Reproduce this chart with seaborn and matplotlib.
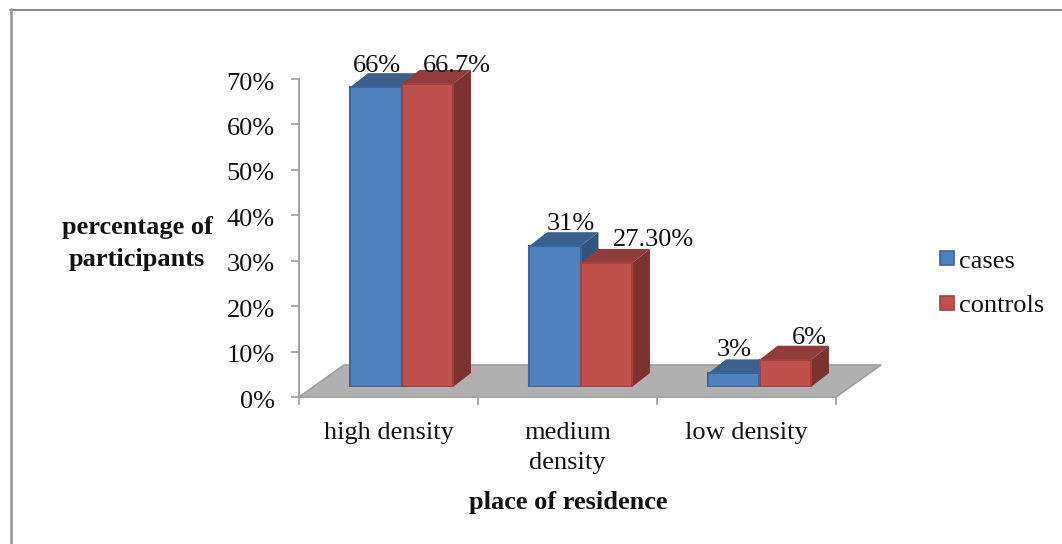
import matplotlib
matplotlib.use("Agg")
import matplotlib.pyplot as plt
from matplotlib.lines import Line2D
from matplotlib.patches import Polygon, Rectangle
from matplotlib.transforms import Affine2D
import pandas as pd
import seaborn as sns

lugares = ["high density", "medium\ndensity", "low density"]
cases = [66, 31, 3]
controls = [66.7, 27.3, 6]
rotulos_cases = ["66%", "31%", "3%"]
rotulos_controls = ["66.7%", "27.30%", "6%"]
ticks_y = [0, 10, 20, 30, 40, 50, 60, 70]

W, H = 1062, 544
AZUL, AZUL_TOPO, AZUL_LADO = "#4f81bd", "#3b618e", "#31537c"
VERM, VERM_TOPO, VERM_LADO = "#c0504d", "#8f3c3a", "#7b3230"
CINZA = "#a6a6a6"
FONTE = 19


def caixa(x0, y_topo, x1, y_base):
    # retangulo em pixels da imagem -> fracao da figura
    return [x0 / W, 1 - y_base / H, (x1 - x0) / W, (y_base - y_topo) / H]


sns.set_theme(style="white")
plt.rcParams["font.family"] = ["Liberation Serif", "DejaVu Serif"]

fig = plt.figure(figsize=(W / 100, H / 100), dpi=100, facecolor="white")
# moldura: so topo e esquerda aparecem no recorte
fig.add_artist(Line2D([10 / W, 1], [1 - 9.5 / H, 1 - 9.5 / H], color="#8c8c8c", linewidth=1.5,
                      transform=fig.transFigure))
fig.add_artist(Line2D([10.5 / W, 10.5 / W], [0, 1 - 9 / H], color="#9a9a9a", linewidth=1.9,
                      transform=fig.transFigure))

# eixos de verdade (escala 0-70 e categorias)
ax = fig.add_axes(caixa(299, 79, 836, 397))
ax.set_facecolor("none")
ax.set_xlim(-0.5, 2.5)
ax.set_ylim(0, 70)
ax.set_yticks(ticks_y)
ax.set_yticklabels([f"{t}%" for t in ticks_y], fontsize=FONTE, color="#111111")
ax.set_xticks([-0.5, 0.5, 1.5, 2.5])
ax.set_xticklabels([])
for pos, nome in enumerate(lugares):
    ax.text(pos, -5.6, nome, ha="center", va="top", fontsize=FONTE, color="#111111", linespacing=1.44)
ax.tick_params(axis="both", length=6, width=1.3, color=CINZA, bottom=True, left=True)
ax.tick_params(axis="y", pad=11.5)
for rotulo in ax.get_yticklabels():
    rotulo.set_transform(rotulo.get_transform() + Affine2D().translate(0, -2))
for lado in ["top", "right"]:
    ax.spines[lado].set_visible(False)
for lado in ["left", "bottom"]:
    ax.spines[lado].set_color(CINZA)
    ax.spines[lado].set_linewidth(1.5)

# chao do grafico 3d
chao = Polygon([(299, H - 397), (344, H - 365), (881, H - 365), (836, H - 397)], closed=True,
               facecolor="#b0b0b0", edgecolor="#a0a0a0", linewidth=1.2, transform=None, zorder=-1)
fig.add_artist(chao)

# barras: mesma escala, base deslocada para cima do chao
ax2 = fig.add_axes(caixa(312, 69, 849, 387))
ax2.set_facecolor("none")
tabela = pd.DataFrame({
    "lugar": lugares * 2,
    "valor": cases + controls,
    "grupo": ["cases"] * 3 + ["controls"] * 3,
})
sns.barplot(data=tabela, x="lugar", y="valor", hue="grupo", palette=[AZUL, VERM], width=0.575, gap=0,
            saturation=1, ax=ax2, zorder=5, linewidth=1.5, edgecolor="none")
ax2.set_xlim(-0.5, 2.5)
ax2.set_ylim(0, 70)
ax2.axis("off")
ax2.get_legend().remove()

dx = 18 / 179
dy = 14 / (318 / 70)
for i, cont in enumerate(ax2.containers):
    topo, lado_cor = (AZUL_TOPO, AZUL_LADO) if i == 0 else (VERM_TOPO, VERM_LADO)
    frente = "#38679f" if i == 0 else "#a5403d"
    for barra in cont:
        barra.set_edgecolor(frente)
        x0, x1, h = barra.get_x(), barra.get_x() + barra.get_width(), barra.get_height()
        ax2.add_patch(Polygon([(x0, h), (x1, h), (x1 + dx, h + dy), (x0 + dx, h + dy)], facecolor=topo,
                              edgecolor="none", zorder=2 + i, clip_on=False))
        ax2.add_patch(Polygon([(x1, 0), (x1 + dx, dy), (x1 + dx, h + dy), (x1, h)], facecolor=lado_cor,
                              edgecolor="none", zorder=2 + i, clip_on=False))

# rotulos, deslocados em pixels a partir do topo de cada barra
desl_cases = [(1, 21), (16, 22), (0, 23)]
desl_controls = [(30, 18), (47, 23), (24, 22)]
for cont, rotulos, desl in [(ax2.containers[0], rotulos_cases, desl_cases),
                            (ax2.containers[1], rotulos_controls, desl_controls)]:
    for barra, rot, (ox, oy) in zip(cont, rotulos, desl):
        ax2.annotate(rot, (barra.get_x() + barra.get_width() / 2, barra.get_height()),
                     xytext=(ox * 0.72, oy * 0.72), textcoords="offset points", ha="center", va="center",
                     fontsize=FONTE, color="#111111", zorder=10, annotation_clip=False)

# titulos dos eixos
fig.text(137 / W, 1 - 243 / H, "percentage of\nparticipants", ha="center", va="center", fontsize=FONTE,
         fontweight="bold", color="#111111", linespacing=1.5)
fig.text(568 / W, 1 - 502 / H, "place of residence", ha="center", va="center", fontsize=FONTE,
         fontweight="bold", color="#111111")

# legenda
for y, nome, cor, borda in [(258, "cases", AZUL, "#38679f"), (303, "controls", VERM, "#a5403d")]:
    fig.add_artist(Rectangle((940 / W, 1 - (y + 7) / H), 14 / W, 14 / H, transform=fig.transFigure,
                             facecolor=cor, edgecolor=borda, linewidth=1.2))
    fig.text(959 / W, 1 - (y + 3.5) / H, nome, ha="left", va="center", fontsize=FONTE, color="#111111")

fig.savefig("out.png", dpi=100)
